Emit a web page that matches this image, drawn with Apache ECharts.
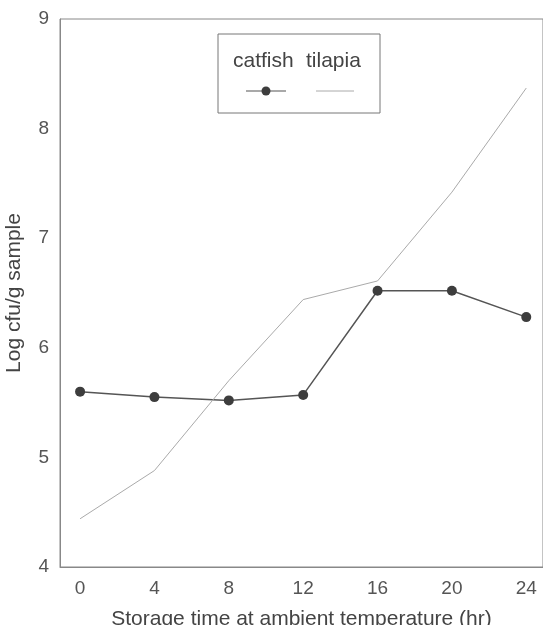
<!DOCTYPE html>
<html><head><meta charset="utf-8">
<script src="https://cdn.jsdelivr.net/npm/echarts@6/dist/echarts.min.js"></script>
<style>html,body{margin:0;padding:0;background:#fff}#c{width:543px;height:625px}</style>
</head><body><div id="c"></div>
<script>
const hours = [0, 4, 8, 12, 16, 20, 24];
const catfish = [5.60, 5.55, 5.52, 5.57, 6.52, 6.52, 6.28];
const tilapia = [4.44, 4.88, 5.70, 6.44, 6.61, 7.42, 8.37];
const xTickLabels = [0, 4, 8, 12, 16, 20, 24];
const seriesNames = ['catfish', 'tilapia'];

const font = 'Liberation Sans, Arial, sans-serif';
const chart = echarts.init(document.getElementById('c'), null, {renderer: 'canvas'});
chart.setOption({
  backgroundColor: '#fff',
  animation: false,
  grid: {left: 60, right: 0, top: 19, bottom: 58, show: true, borderColor: '#888', borderWidth: 1,
         containLabel: false, outerBoundsMode: 'none'},
  xAxis: {
    type: 'value', min: -1.08, max: 24.9,
    name: 'Storage time at ambient temperature (hr)', nameLocation: 'middle', nameGap: 42,
    nameTextStyle: {fontFamily: font, fontSize: 21, color: '#444'},
    axisLine: {show: true, onZero: false, lineStyle: {color: '#888'}},
    axisTick: {show: false},
    splitLine: {show: false},
    axisLabel: {customValues: xTickLabels, fontFamily: font, fontSize: 19, color: '#555', margin: 12}
  },
  yAxis: {
    type: 'value', min: 4, max: 9, interval: 1,
    name: 'Log cfu/g sample', nameLocation: 'middle', nameGap: 35,
    nameTextStyle: {fontFamily: font, fontSize: 21, color: '#444'},
    axisLine: {show: true, onZero: false, lineStyle: {color: '#888'}},
    axisTick: {show: false},
    splitLine: {show: false},
    axisLabel: {fontFamily: font, fontSize: 19, color: '#555', margin: 11}
  },
  series: [
    {name: seriesNames[0], type: 'line', data: hours.map((h, i) => [h, catfish[i]]),
     symbol: 'circle', symbolSize: 10,
     itemStyle: {color: '#3d3d3d'}, lineStyle: {color: '#555', width: 1.5}},
    {name: seriesNames[1], type: 'line', data: hours.map((h, i) => [h, tilapia[i]]),
     symbol: 'none',
     lineStyle: {color: '#aaa', width: 1}}
  ],
  graphic: [
    {type: 'rect', shape: {x: 218, y: 34, width: 162, height: 79},
     style: {fill: '#fff', stroke: '#777', lineWidth: 1}},
    {type: 'text', x: 233, y: 61, style: {text: seriesNames[0], font: '21px ' + font, fill: '#444', textVerticalAlign: 'middle'}},
    {type: 'text', x: 306, y: 61, style: {text: seriesNames[1], font: '21px ' + font, fill: '#444', textVerticalAlign: 'middle'}},
    {type: 'line', shape: {x1: 246, y1: 91, x2: 286, y2: 91}, style: {stroke: '#555', lineWidth: 1.2}},
    {type: 'circle', shape: {cx: 266, cy: 91, r: 4.5}, style: {fill: '#3d3d3d'}},
    {type: 'line', shape: {x1: 316, y1: 91, x2: 354, y2: 91}, style: {stroke: '#aaa', lineWidth: 1}}
  ]
});
</script></body></html>
